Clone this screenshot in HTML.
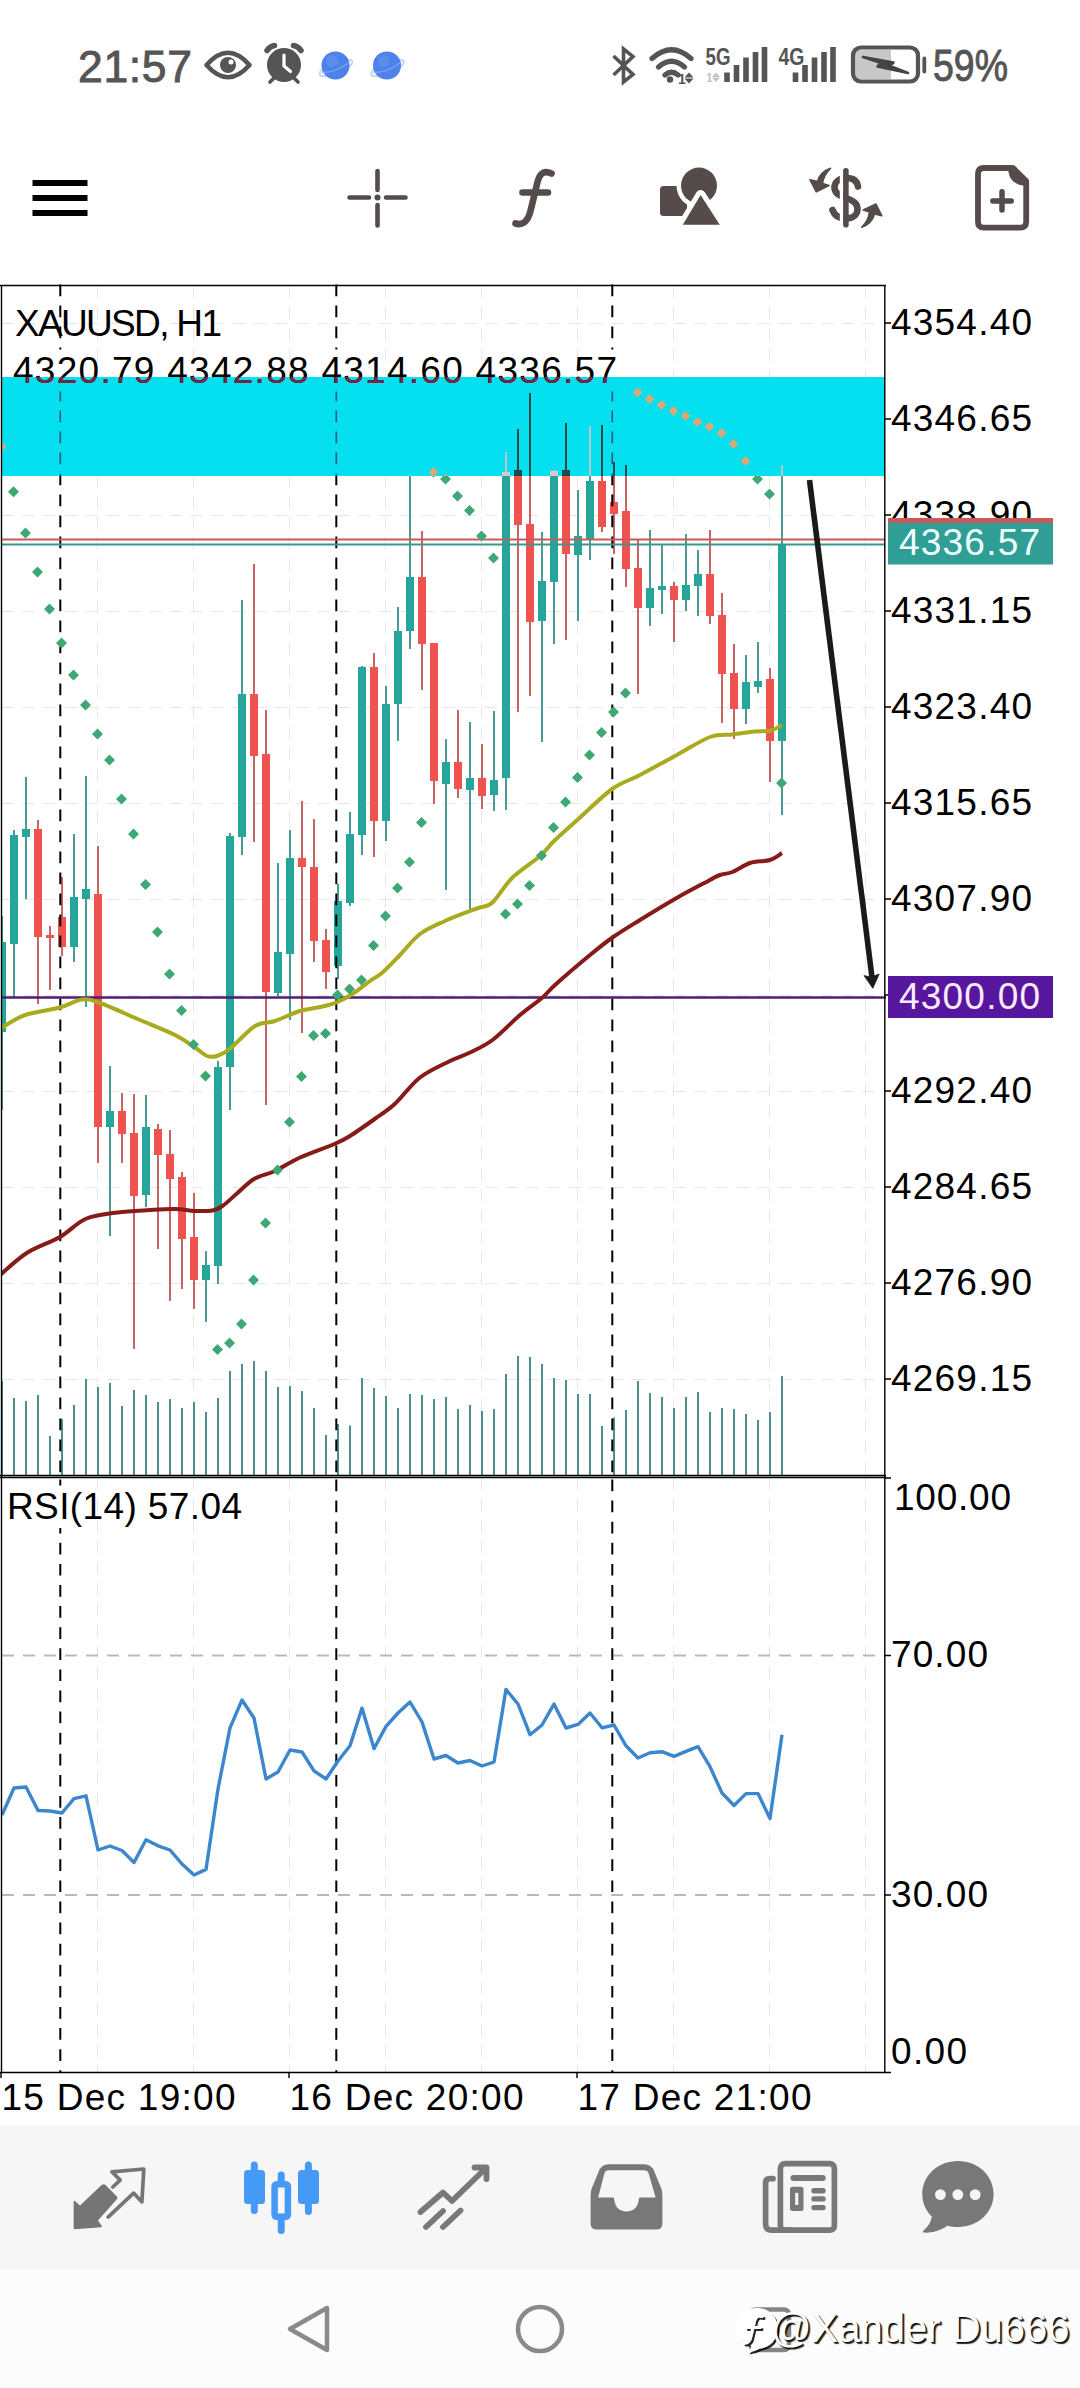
<!DOCTYPE html>
<html lang="en"><head><meta charset="utf-8"><title>XAUUSD H1</title>
<style>
html,body{margin:0;padding:0;background:#fff}
body{width:1080px;height:2388px;position:relative;overflow:hidden;font-family:"Liberation Sans",sans-serif}
.abs{position:absolute}
#nav{position:absolute;left:0;top:2125px;width:1080px;height:145px;background:#f6f6f6}
#sys{position:absolute;left:0;top:2270px;width:1080px;height:118px;background:#fcfcfc}
#wm{position:absolute;left:771px;top:2305px;font-size:40px;line-height:46px;color:#fff;letter-spacing:0px;white-space:nowrap;text-shadow:2px 2px 1px rgba(0,0,0,.85),1px 1px 0 rgba(60,60,60,.8)}
</style></head><body>
<svg class="abs" style="left:0;top:0" width="1080" height="280" viewBox="0 0 1080 280" font-family="Liberation Sans, sans-serif">
<text x="78" y="81.500" font-size="44.500" fill="#555" stroke="#555" stroke-width="0.9" textLength="114" lengthAdjust="spacing">21:57</text>
<text x="933" y="81" font-size="44" fill="#555" stroke="#555" stroke-width="0.9" textLength="75" lengthAdjust="spacingAndGlyphs">59%</text>
<!-- eye -->
<path d="M206.500 65Q228 40.500 249.500 65Q228 89.500 206.500 65Z" fill="none" stroke="#555" stroke-width="4.600" stroke-linejoin="round"/>
<circle cx="228" cy="65" r="8" fill="#555"/><circle cx="231" cy="62" r="2.500" fill="#fff"/>
<!-- alarm -->
<circle cx="284" cy="65" r="17" fill="#555"/>
<path d="M284 55V66L290.500 71.500" stroke="#fff" stroke-width="3.200" fill="none" stroke-linecap="round"/>
<path d="M267 50.500Q269.500 46.500 274.500 45.500M301 50.500Q298.500 46.500 293.500 45.500" stroke="#555" stroke-width="5.500" stroke-linecap="round" fill="none"/>
<path d="M274.500 77.500L270 82M293.500 77.500L298 82" stroke="#555" stroke-width="3.600" stroke-linecap="round"/>
<!-- planets -->
<g><ellipse cx="336" cy="68" rx="17.500" ry="5.500" fill="none" stroke="#c3d4f5" stroke-width="2" transform="rotate(-22 336 68)"/><circle cx="335.500" cy="65.500" r="14" fill="#4d82ea"/><circle cx="332" cy="61" r="6" fill="#6f9cf2" opacity=".45"/><path d="M322 72.500Q333 73.500 348.500 63" stroke="#8db0f3" stroke-width="1.500" fill="none" opacity=".7"/></g>
<g transform="translate(51.5 0)"><ellipse cx="336" cy="68" rx="17.500" ry="5.500" fill="none" stroke="#c3d4f5" stroke-width="2" transform="rotate(-22 336 68)"/><circle cx="335.500" cy="65.500" r="14" fill="#4d82ea"/><circle cx="332" cy="61" r="6" fill="#6f9cf2" opacity=".45"/><path d="M322 72.500Q333 73.500 348.500 63" stroke="#8db0f3" stroke-width="1.500" fill="none" opacity=".7"/></g>
<!-- bluetooth -->
<path d="M613.500 56L633 74.500L623.500 82V49L633 56.500L613.500 75" fill="none" stroke="#555" stroke-width="3.600" stroke-linejoin="miter"/>
<!-- wifi -->
<path d="M652 58.500Q671.500 41 691 58.500" fill="none" stroke="#555" stroke-width="5.200" stroke-linecap="round"/>
<path d="M658.500 67Q671.500 55.500 684.500 67" fill="none" stroke="#555" stroke-width="5.200" stroke-linecap="round"/>
<path d="M665 75Q671.500 69.500 678 75" fill="none" stroke="#555" stroke-width="5.200" stroke-linecap="round"/>
<circle cx="670" cy="79.500" r="3.200" fill="#555"/>
<text x="678" y="83.500" font-size="14" font-weight="700" fill="#555">1</text><path d="M689 72.500l4.500 5h-9zM689 83.500l-4.500-5h9z" fill="#555"/>
<!-- 5G signal -->
<text x="705.500" y="64.500" font-size="23" font-weight="700" fill="#555" textLength="25" lengthAdjust="spacingAndGlyphs">5G</text>
<text x="706" y="82" font-size="12" font-weight="700" fill="#c4c4c4">1</text><path d="M716 72.500l4 4.500h-8zM716 82l-4-4.500h8z" fill="#c4c4c4"/>
<path d="M727 82V72.500M736.500 82V65M746 82V57.500M755.500 82V52M764.500 82V47" stroke="#555" stroke-width="5.600"/>
<!-- 4G signal -->
<text x="778.500" y="64.500" font-size="23" font-weight="700" fill="#555" textLength="26" lengthAdjust="spacingAndGlyphs">4G</text>
<path d="M795.500 82V72.500M805 82V65M814.500 82V57.500M824 82V52M833 82V47" stroke="#555" stroke-width="5.600"/>
<!-- battery -->
<rect x="855" y="50" width="36" height="29" fill="#c8c8c8"/>
<rect x="853" y="47.500" width="65" height="34" rx="8" fill="none" stroke="#555" stroke-width="4.200"/>
<path d="M924.300 58.500V71.500" stroke="#555" stroke-width="3.800" stroke-linecap="round"/>
<path d="M863 57L881 63L877.500 66.500L908 73L890 66L893.500 62.500Z" fill="#444" stroke="#444" stroke-width="2.500" stroke-linejoin="round"/>
<!-- hamburger -->
<path d="M32.500 183H87.500M32.500 198H87.500M32.500 213H87.500" stroke="#000" stroke-width="6"/>
<!-- crosshair -->
<g stroke="#554b4b" stroke-width="4.600" stroke-linecap="round" fill="none"><path d="M377.500 171V190M377.500 205V225.500M349.500 197.500H369M386 197.500H405.500"/></g><circle cx="377.500" cy="197.500" r="3" fill="#554b4b"/>
<!-- f -->
<path d="M515.500 223.500C524 226 528.500 220 531 209L537.500 182C540 172 545 170.500 551.500 173.500M522.500 192.500H548" fill="none" stroke="#554b4b" stroke-width="6.600" stroke-linecap="round"/>
<!-- shapes -->
<rect x="660" y="186" width="27" height="30" rx="3.500" fill="#554b4b"/>
<circle cx="699" cy="185.600" r="22.500" fill="#fff"/><circle cx="699" cy="185.600" r="18" fill="#554b4b"/>
<path d="M700.600 195L719.800 224.700H682.800Z" fill="#554b4b" stroke="#fff" stroke-width="10" stroke-linejoin="round"/>
<path d="M700.600 195L719.800 224.700H682.800Z" fill="#554b4b"/>
<rect x="676" y="229.800" width="50" height="8" fill="#fff"/>
<!-- $ exchange -->
<path d="M858 186.500C857 180 852 178 846.500 178C839 178 834.500 182 834.500 187.500C834.500 193 839 195.500 846 198C853 200.500 857.500 203 857.500 209C857.500 215 852.500 218.500 846 218.500C839.500 218.500 834.500 215.500 832.500 210" fill="none" stroke="#554b4b" stroke-width="6.600" stroke-linecap="round"/>
<path d="M841.500 170V226" stroke="#fff" stroke-width="3.400"/>
<path d="M845.900 170.700V224.800" stroke="#554b4b" stroke-width="5.600" stroke-linecap="round"/>
<path d="M830.500 168.300Q820 172 817.500 181.500L810 179.800L816.300 191.800L829 185.600L822.500 183.500Q823.500 175 830.500 168.300Z" fill="#554b4b" stroke="#554b4b" stroke-width="1.600" stroke-linejoin="round"/>
<path d="M861.700 227.200Q872 223.500 874.500 214L881.800 215.800L876 204L863.200 210L869.500 212Q868.500 220.500 861.700 227.200Z" fill="#554b4b" stroke="#554b4b" stroke-width="1.600" stroke-linejoin="round"/>
<!-- doc+ -->
<path d="M984 168H1013L1026.200 181V221.700Q1026.200 227.700 1020.200 227.700H984Q978 227.700 978 221.700V174Q978 168 984 168Z" fill="none" stroke="#554b4b" stroke-width="5.800" stroke-linejoin="round"/>
<path d="M1008 168L1014 166L1028 180L1027 186L1023 185.500Q1010 184 1008.300 171Z" fill="#554b4b"/>
<path d="M1002 191.700V210M992.800 201.100H1011.200" stroke="#554b4b" stroke-width="5.500" stroke-linecap="round"/>
</svg>
<svg id="chart" width="1080" height="1850" viewBox="0 280 1080 1850" style="position:absolute;left:0;top:280px" font-family="Liberation Sans, sans-serif">
<defs><clipPath id="cp"><rect x="2" y="286" width="883" height="1189"/></clipPath><clipPath id="cy"><rect x="2" y="377" width="883" height="99"/></clipPath><clipPath id="cr"><rect x="2" y="1478" width="883" height="594"/></clipPath></defs>
<path d="M97.5 286V1475M97.5 1478V2072M193.5 286V1475M193.5 1478V2072M289.5 286V1475M289.5 1478V2072M385.5 286V1475M385.5 1478V2072M481.5 286V1475M481.5 1478V2072M577.5 286V1475M577.5 1478V2072M673.5 286V1475M673.5 1478V2072M769.5 286V1475M769.5 1478V2072M865.5 286V1475M865.5 1478V2072M2 323.5H885M2 419.5H885M2 515.5H885M2 611.5H885M2 707.5H885M2 803.5H885M2 899.5H885M2 995.5H885M2 1091.5H885M2 1187.5H885M2 1283.5H885M2 1379.5H885" stroke="#e6e6e6" stroke-width="1" stroke-dasharray="12 9" fill="none"/>
<path d="M2 1655.5H885M2 1895H885" stroke="#b9b9b9" stroke-width="2" stroke-dasharray="12 9" fill="none"/>
<g clip-path="url(#cp)">
<path d="M2 1381V1475M14 1398V1475M26 1401V1475M38 1395V1475M50 1436V1475M62 1419V1475M74 1405V1475M86 1379V1475M98 1387V1475M110 1383V1475M122 1406V1475M134 1390V1475M146 1395V1475M158 1402V1475M170 1399V1475M182 1408V1475M194 1402V1475M206 1412V1475M218 1398V1475M230 1371V1475M242 1364V1475M254 1361V1475M266 1371V1475M278 1387V1475M290 1386V1475M302 1391V1475M314 1408V1475M326 1435V1475M338 1424V1475M350 1425.5V1475M362 1378V1475M374 1388V1475M386 1396V1475M398 1408V1475M410 1394V1475M422 1395V1475M434 1399V1475M446 1397V1475M458 1409V1475M470 1405V1475M482 1411V1475M494 1409V1475M506 1374V1475M518 1356V1475M530 1357V1475M542 1364V1475M554 1378V1475M566 1380V1475M578 1394V1475M590 1394V1475M602 1426V1475M614 1417.5V1475M626 1410V1475M638 1381V1475M650 1393V1475M662 1397V1475M674 1408V1475M686 1397V1475M698 1392V1475M710 1412V1475M722 1408V1475M734 1409V1475M746 1414V1475M758 1420V1475M770 1412V1475M782 1376V1475" stroke="#4d8f8f" stroke-width="2" fill="none"/>
<path d="M2 916V1110" stroke="#4a9a98" stroke-width="2"/><rect x="-2" y="942" width="8" height="90" fill="#26a69a"/><path d="M14 830V997" stroke="#4a9a98" stroke-width="2"/><rect x="10" y="835" width="8" height="109" fill="#26a69a"/><path d="M26 777V899" stroke="#4a9a98" stroke-width="2"/><rect x="22" y="829" width="8" height="8" fill="#26a69a"/><path d="M38 820V1004" stroke="#c86464" stroke-width="2"/><rect x="34" y="829" width="8" height="108" fill="#ef5350"/><path d="M50 926V990" stroke="#c86464" stroke-width="2"/><rect x="46" y="935" width="8" height="3" fill="#ef5350"/><path d="M62 877V956" stroke="#c86464" stroke-width="2"/><rect x="58" y="917" width="8" height="30" fill="#ef5350"/><path d="M74 834V962" stroke="#4a9a98" stroke-width="2"/><rect x="70" y="897" width="8" height="50" fill="#26a69a"/><path d="M86 776V1007" stroke="#4a9a98" stroke-width="2"/><rect x="82" y="889" width="8" height="10" fill="#26a69a"/><path d="M98 846V1163" stroke="#c86464" stroke-width="2"/><rect x="94" y="894" width="8" height="233" fill="#ef5350"/><path d="M110 1066V1236" stroke="#4a9a98" stroke-width="2"/><rect x="106" y="1111" width="8" height="16" fill="#26a69a"/><path d="M122 1093V1163" stroke="#c86464" stroke-width="2"/><rect x="118" y="1111" width="8" height="23" fill="#ef5350"/><path d="M134 1094V1349" stroke="#c86464" stroke-width="2"/><rect x="130" y="1133" width="8" height="63" fill="#ef5350"/><path d="M146 1095V1207" stroke="#4a9a98" stroke-width="2"/><rect x="142" y="1127" width="8" height="68" fill="#26a69a"/><path d="M158 1124V1249" stroke="#c86464" stroke-width="2"/><rect x="154" y="1129" width="8" height="26" fill="#ef5350"/><path d="M170 1130V1301" stroke="#c86464" stroke-width="2"/><rect x="166" y="1154" width="8" height="25" fill="#ef5350"/><path d="M182 1172V1289" stroke="#c86464" stroke-width="2"/><rect x="178" y="1177" width="8" height="62" fill="#ef5350"/><path d="M194 1193V1309" stroke="#c86464" stroke-width="2"/><rect x="190" y="1237" width="8" height="43" fill="#ef5350"/><path d="M206 1251V1322" stroke="#4a9a98" stroke-width="2"/><rect x="202" y="1265" width="8" height="15" fill="#26a69a"/><path d="M218 1061V1284" stroke="#4a9a98" stroke-width="2"/><rect x="214" y="1067" width="8" height="199" fill="#26a69a"/><path d="M230 833V1110" stroke="#4a9a98" stroke-width="2"/><rect x="226" y="836" width="8" height="231" fill="#26a69a"/><path d="M242 600V855" stroke="#4a9a98" stroke-width="2"/><rect x="238" y="694" width="8" height="143" fill="#26a69a"/><path d="M254 564V842" stroke="#c86464" stroke-width="2"/><rect x="250" y="694" width="8" height="62" fill="#ef5350"/><path d="M266 710V1105" stroke="#c86464" stroke-width="2"/><rect x="262" y="754" width="8" height="238" fill="#ef5350"/><path d="M278 863V996" stroke="#4a9a98" stroke-width="2"/><rect x="274" y="952" width="8" height="41" fill="#26a69a"/><path d="M290 830V1020" stroke="#4a9a98" stroke-width="2"/><rect x="286" y="858" width="8" height="96" fill="#26a69a"/><path d="M302 801V1033" stroke="#c86464" stroke-width="2"/><rect x="298" y="858" width="8" height="9" fill="#ef5350"/><path d="M314 819V962" stroke="#c86464" stroke-width="2"/><rect x="310" y="867" width="8" height="74" fill="#ef5350"/><path d="M326 929V989" stroke="#c86464" stroke-width="2"/><rect x="322" y="940" width="8" height="32" fill="#ef5350"/><path d="M338 884V979" stroke="#4a9a98" stroke-width="2"/><rect x="334" y="901" width="8" height="65" fill="#26a69a"/><path d="M350 812V906" stroke="#4a9a98" stroke-width="2"/><rect x="346" y="834" width="8" height="69" fill="#26a69a"/><path d="M362 666V855" stroke="#4a9a98" stroke-width="2"/><rect x="358" y="667" width="8" height="168" fill="#26a69a"/><path d="M374 653V857" stroke="#c86464" stroke-width="2"/><rect x="370" y="667" width="8" height="154" fill="#ef5350"/><path d="M386 686V841" stroke="#4a9a98" stroke-width="2"/><rect x="382" y="704" width="8" height="117" fill="#26a69a"/><path d="M398 607V741" stroke="#4a9a98" stroke-width="2"/><rect x="394" y="631" width="8" height="73" fill="#26a69a"/><path d="M410 475V649" stroke="#4a9a98" stroke-width="2"/><rect x="406" y="577" width="8" height="54" fill="#26a69a"/><path d="M422 531V690" stroke="#c86464" stroke-width="2"/><rect x="418" y="577" width="8" height="67" fill="#ef5350"/><path d="M434 643V804" stroke="#c86464" stroke-width="2"/><rect x="430" y="643" width="8" height="138" fill="#ef5350"/><path d="M446 739V890" stroke="#4a9a98" stroke-width="2"/><rect x="442" y="762" width="8" height="22" fill="#26a69a"/><path d="M458 710V798" stroke="#c86464" stroke-width="2"/><rect x="454" y="762" width="8" height="27" fill="#ef5350"/><path d="M470 722V910" stroke="#4a9a98" stroke-width="2"/><rect x="466" y="778" width="8" height="12" fill="#26a69a"/><path d="M482 744V809" stroke="#c86464" stroke-width="2"/><rect x="478" y="778" width="8" height="18" fill="#ef5350"/><path d="M494 711V811" stroke="#4a9a98" stroke-width="2"/><rect x="490" y="780" width="8" height="15" fill="#26a69a"/><path d="M506 452V810" stroke="#4a9a98" stroke-width="2"/><rect x="502" y="472" width="8" height="306" fill="#26a69a"/><path d="M518 429V712" stroke="#c86464" stroke-width="2"/><rect x="514" y="470" width="8" height="55" fill="#ef5350"/><path d="M530 393V696" stroke="#c86464" stroke-width="2"/><rect x="526" y="524" width="8" height="98" fill="#ef5350"/><path d="M542 532V742" stroke="#4a9a98" stroke-width="2"/><rect x="538" y="581" width="8" height="40" fill="#26a69a"/><path d="M554 470V644" stroke="#4a9a98" stroke-width="2"/><rect x="550" y="471" width="8" height="111" fill="#26a69a"/><path d="M566 423V640" stroke="#c86464" stroke-width="2"/><rect x="562" y="470" width="8" height="84" fill="#ef5350"/><path d="M578 490V621" stroke="#4a9a98" stroke-width="2"/><rect x="574" y="536" width="8" height="19" fill="#26a69a"/><path d="M590 426V560" stroke="#4a9a98" stroke-width="2"/><rect x="586" y="481" width="8" height="58" fill="#26a69a"/><path d="M602 425V532" stroke="#c86464" stroke-width="2"/><rect x="598" y="481" width="8" height="46" fill="#ef5350"/><path d="M614 462V554" stroke="#c86464" stroke-width="2"/><rect x="610" y="502" width="8" height="12" fill="#ef5350"/><path d="M626 465V587" stroke="#c86464" stroke-width="2"/><rect x="622" y="511" width="8" height="58" fill="#ef5350"/><path d="M638 540V694" stroke="#c86464" stroke-width="2"/><rect x="634" y="568" width="8" height="40" fill="#ef5350"/><path d="M650 530V626" stroke="#4a9a98" stroke-width="2"/><rect x="646" y="588" width="8" height="20" fill="#26a69a"/><path d="M662 545V614" stroke="#4a9a98" stroke-width="2"/><rect x="658" y="586" width="8" height="4" fill="#26a69a"/><path d="M674 582V642" stroke="#c86464" stroke-width="2"/><rect x="670" y="586" width="8" height="14" fill="#ef5350"/><path d="M686 534V611" stroke="#4a9a98" stroke-width="2"/><rect x="682" y="585" width="8" height="15" fill="#26a69a"/><path d="M698 550V616" stroke="#4a9a98" stroke-width="2"/><rect x="694" y="574" width="8" height="12" fill="#26a69a"/><path d="M710 530V624" stroke="#c86464" stroke-width="2"/><rect x="706" y="574" width="8" height="42" fill="#ef5350"/><path d="M722 593V723" stroke="#c86464" stroke-width="2"/><rect x="718" y="615" width="8" height="59" fill="#ef5350"/><path d="M734 644V739" stroke="#c86464" stroke-width="2"/><rect x="730" y="673" width="8" height="36" fill="#ef5350"/><path d="M746 655V724" stroke="#4a9a98" stroke-width="2"/><rect x="742" y="682" width="8" height="27" fill="#26a69a"/><path d="M758 642V693" stroke="#4a9a98" stroke-width="2"/><rect x="754" y="681" width="8" height="6" fill="#26a69a"/><path d="M770 668V782" stroke="#c86464" stroke-width="2"/><rect x="766" y="679" width="8" height="62" fill="#ef5350"/><path d="M782 465V815" stroke="#4a9a98" stroke-width="2"/><rect x="778" y="544" width="8" height="197" fill="#26a69a"/>
</g>
<path d="M60.3 284.6V296.3M60.3 305.6V317.3M60.3 326.6V338.3M60.3 347.6V349.4M60.3 476.0V485.3M60.3 494.6V506.3M60.3 515.6V527.3M60.3 536.6V548.3M60.3 557.6V569.3M60.3 578.6V590.3M60.3 599.6V611.3M60.3 620.6V632.3M60.3 641.6V653.3M60.3 662.6V674.3M60.3 683.6V695.3M60.3 704.6V716.3M60.3 725.6V737.3M60.3 746.6V758.3M60.3 767.6V779.3M60.3 788.6V800.3M60.3 809.6V821.3M60.3 830.6V842.3M60.3 851.6V863.3M60.3 872.6V884.3M60.3 893.6V905.3M60.3 914.6V926.3M60.3 935.6V947.3M60.3 956.6V968.3M60.3 977.6V989.3M60.3 998.6V1010.3M60.3 1019.6V1031.3M60.3 1040.6V1052.3M60.3 1061.6V1073.3M60.3 1082.6V1094.3M60.3 1103.6V1115.3M60.3 1124.6V1136.3M60.3 1145.6V1157.3M60.3 1166.6V1178.3M60.3 1187.6V1199.3M60.3 1208.6V1220.3M60.3 1229.6V1241.3M60.3 1250.6V1262.3M60.3 1271.6V1283.3M60.3 1292.6V1304.3M60.3 1313.6V1325.3M60.3 1334.6V1346.3M60.3 1355.6V1367.3M60.3 1376.6V1388.3M60.3 1397.6V1409.3M60.3 1418.6V1430.3M60.3 1439.6V1451.3M60.3 1460.6V1472.3M60.3 1479.5V1485.5M60.3 1528.0V1533.4M60.3 1542.8V1554.5M60.3 1563.9V1575.6M60.3 1585.0V1596.7M60.3 1606.1V1617.8M60.3 1627.2V1638.9M60.3 1648.3V1660.0M60.3 1669.4V1681.1M60.3 1690.5V1702.2M60.3 1711.6V1723.3M60.3 1732.7V1744.4M60.3 1753.8V1765.5M60.3 1774.9V1786.6M60.3 1796.0V1807.7M60.3 1817.1V1828.8M60.3 1838.2V1849.9M60.3 1859.3V1871.0M60.3 1880.4V1892.1M60.3 1901.5V1913.2M60.3 1922.6V1934.3M60.3 1943.7V1955.4M60.3 1964.8V1976.5M60.3 1985.9V1997.6M60.3 2007.0V2018.7M60.3 2028.1V2039.8M60.3 2049.2V2060.9M60.3 2070.3V2072.0M336.3 284.6V296.3M336.3 305.6V317.3M336.3 326.6V338.3M336.3 347.6V349.4M336.3 476.0V485.3M336.3 494.6V506.3M336.3 515.6V527.3M336.3 536.6V548.3M336.3 557.6V569.3M336.3 578.6V590.3M336.3 599.6V611.3M336.3 620.6V632.3M336.3 641.6V653.3M336.3 662.6V674.3M336.3 683.6V695.3M336.3 704.6V716.3M336.3 725.6V737.3M336.3 746.6V758.3M336.3 767.6V779.3M336.3 788.6V800.3M336.3 809.6V821.3M336.3 830.6V842.3M336.3 851.6V863.3M336.3 872.6V884.3M336.3 893.6V905.3M336.3 914.6V926.3M336.3 935.6V947.3M336.3 956.6V968.3M336.3 977.6V989.3M336.3 998.6V1010.3M336.3 1019.6V1031.3M336.3 1040.6V1052.3M336.3 1061.6V1073.3M336.3 1082.6V1094.3M336.3 1103.6V1115.3M336.3 1124.6V1136.3M336.3 1145.6V1157.3M336.3 1166.6V1178.3M336.3 1187.6V1199.3M336.3 1208.6V1220.3M336.3 1229.6V1241.3M336.3 1250.6V1262.3M336.3 1271.6V1283.3M336.3 1292.6V1304.3M336.3 1313.6V1325.3M336.3 1334.6V1346.3M336.3 1355.6V1367.3M336.3 1376.6V1388.3M336.3 1397.6V1409.3M336.3 1418.6V1430.3M336.3 1439.6V1451.3M336.3 1460.6V1472.3M336.3 1479.5V1491.2M336.3 1500.6V1512.3M336.3 1521.7V1533.4M336.3 1542.8V1554.5M336.3 1563.9V1575.6M336.3 1585.0V1596.7M336.3 1606.1V1617.8M336.3 1627.2V1638.9M336.3 1648.3V1660.0M336.3 1669.4V1681.1M336.3 1690.5V1702.2M336.3 1711.6V1723.3M336.3 1732.7V1744.4M336.3 1753.8V1765.5M336.3 1774.9V1786.6M336.3 1796.0V1807.7M336.3 1817.1V1828.8M336.3 1838.2V1849.9M336.3 1859.3V1871.0M336.3 1880.4V1892.1M336.3 1901.5V1913.2M336.3 1922.6V1934.3M336.3 1943.7V1955.4M336.3 1964.8V1976.5M336.3 1985.9V1997.6M336.3 2007.0V2018.7M336.3 2028.1V2039.8M336.3 2049.2V2060.9M336.3 2070.3V2072.0M612.3 284.6V296.3M612.3 305.6V317.3M612.3 326.6V338.3M612.3 347.6V349.4M612.3 476.0V485.3M612.3 494.6V506.3M612.3 515.6V527.3M612.3 536.6V548.3M612.3 557.6V569.3M612.3 578.6V590.3M612.3 599.6V611.3M612.3 620.6V632.3M612.3 641.6V653.3M612.3 662.6V674.3M612.3 683.6V695.3M612.3 704.6V716.3M612.3 725.6V737.3M612.3 746.6V758.3M612.3 767.6V779.3M612.3 788.6V800.3M612.3 809.6V821.3M612.3 830.6V842.3M612.3 851.6V863.3M612.3 872.6V884.3M612.3 893.6V905.3M612.3 914.6V926.3M612.3 935.6V947.3M612.3 956.6V968.3M612.3 977.6V989.3M612.3 998.6V1010.3M612.3 1019.6V1031.3M612.3 1040.6V1052.3M612.3 1061.6V1073.3M612.3 1082.6V1094.3M612.3 1103.6V1115.3M612.3 1124.6V1136.3M612.3 1145.6V1157.3M612.3 1166.6V1178.3M612.3 1187.6V1199.3M612.3 1208.6V1220.3M612.3 1229.6V1241.3M612.3 1250.6V1262.3M612.3 1271.6V1283.3M612.3 1292.6V1304.3M612.3 1313.6V1325.3M612.3 1334.6V1346.3M612.3 1355.6V1367.3M612.3 1376.6V1388.3M612.3 1397.6V1409.3M612.3 1418.6V1430.3M612.3 1439.6V1451.3M612.3 1460.6V1472.3M612.3 1479.5V1491.2M612.3 1500.6V1512.3M612.3 1521.7V1533.4M612.3 1542.8V1554.5M612.3 1563.9V1575.6M612.3 1585.0V1596.7M612.3 1606.1V1617.8M612.3 1627.2V1638.9M612.3 1648.3V1660.0M612.3 1669.4V1681.1M612.3 1690.5V1702.2M612.3 1711.6V1723.3M612.3 1732.7V1744.4M612.3 1753.8V1765.5M612.3 1774.9V1786.6M612.3 1796.0V1807.7M612.3 1817.1V1828.8M612.3 1838.2V1849.9M612.3 1859.3V1871.0M612.3 1880.4V1892.1M612.3 1901.5V1913.2M612.3 1922.6V1934.3M612.3 1943.7V1955.4M612.3 1964.8V1976.5M612.3 1985.9V1997.6M612.3 2007.0V2018.7M612.3 2028.1V2039.8M612.3 2049.2V2060.9M612.3 2070.3V2072.0" stroke="#000" stroke-width="2" fill="none"/>
<path d="M2 539.5H885" stroke="#c85a5a" stroke-width="2"/><path d="M2 544.5H885" stroke="#3c9590" stroke-width="2"/>
<path d="M2 997.5H886" stroke="#4c1e74" stroke-width="2.7"/>
<g clip-path="url(#cp)" fill="none" stroke-linejoin="round" stroke-linecap="butt">
<path d="M0 1028.75C4.2 1026.5 15.0 1018.5 25 1015C35.0 1011.5 50.5 1010.1 60 1007.5C69.5 1004.9 75.3 1000.2 82 999.5C88.7 998.8 90.3 999.6 100 1003C109.7 1006.4 127.5 1014.7 140 1020C152.5 1025.3 165.8 1030.4 175 1035C184.2 1039.6 189.7 1044.0 195 1047.5C200.3 1051.0 203.3 1054.6 207 1056C210.7 1057.4 213.2 1057.2 217 1056C220.8 1054.8 223.7 1053.8 230 1048.75C236.3 1043.8 247.5 1030.6 255 1026C262.5 1021.4 267.5 1023.5 275 1021C282.5 1018.5 291.7 1013.5 300 1011C308.3 1008.5 318.8 1007.5 325 1006C331.2 1004.5 332.9 1004.0 337.5 1002C342.1 1000.0 347.1 997.5 352.5 994C357.9 990.5 365.0 984.6 370 981C375.0 977.4 377.5 976.8 382.5 972.5C387.5 968.2 393.8 961.4 400 955C406.2 948.6 412.5 939.7 420 934C427.5 928.3 436.7 924.8 445 921C453.3 917.2 464.2 913.2 470 911C475.8 908.8 476.2 908.9 480 907.5C483.8 906.1 487.1 907.5 492.5 902.5C497.9 897.5 504.6 885.2 512.5 877.5C520.4 869.8 532.9 862.2 540 856C547.1 849.8 548.3 846.4 555 840C561.7 833.6 570.4 826.0 580 817.5C589.6 809.0 602.5 795.8 612.5 788.75C622.5 781.7 629.6 780.5 640 775C650.4 769.5 663.3 762.3 675 756C686.7 749.7 700.4 740.6 710 737C719.6 733.4 725.0 735.4 732.5 734.5C740.0 733.6 748.8 732.1 755 731.5C761.2 730.9 765.5 731.8 770 730.75C774.5 729.7 780.0 726.0 782 725" stroke="#a9ab1f" stroke-width="4"/>
<path d="M0 1275C4.6 1271.2 17.5 1258.8 27.5 1252.5C37.5 1246.2 50.2 1242.6 60 1237C69.8 1231.4 76.4 1222.8 86 1218.75C95.6 1214.7 106.8 1214.0 117.5 1212.5C128.2 1211.0 140.4 1210.6 150 1210C159.6 1209.4 167.5 1208.8 175 1209C182.5 1209.2 188.8 1210.8 195 1211C201.2 1211.2 207.9 1211.3 212.5 1210.5C217.1 1209.7 218.3 1208.9 222.5 1206C226.7 1203.1 232.2 1197.5 237.5 1193C242.8 1188.5 247.8 1182.7 254 1179C260.2 1175.3 267.3 1174.6 275 1171C282.7 1167.4 290.0 1162.0 300 1157.5C310.0 1153.0 326.7 1147.3 335 1143.75C343.3 1140.2 343.3 1140.2 350 1136C356.7 1131.8 367.5 1124.1 375 1118.75C382.5 1113.4 387.5 1110.6 395 1103.75C402.5 1096.9 410.8 1084.6 420 1077.5C429.2 1070.4 441.7 1065.2 450 1061C458.3 1056.8 462.9 1056.0 470 1052.5C477.1 1049.0 484.2 1046.2 492.5 1040C500.8 1033.8 511.7 1022.1 520 1015C528.3 1007.9 536.7 1002.5 542.5 997.5C548.3 992.5 547.1 992.1 555 985C562.9 977.9 580.4 962.9 590 955C599.6 947.1 604.2 943.3 612.5 937.5C620.8 931.7 629.2 926.7 640 920C650.8 913.3 665.8 904.2 677.5 897.5C689.2 890.8 702.9 883.8 710 880C717.1 876.2 716.2 876.3 720 875C723.8 873.7 727.5 874.0 732.5 872C737.5 870.0 743.8 865.0 750 863C756.2 861.0 764.7 861.7 770 860C775.3 858.3 780.0 854.2 782 853" stroke="#861b17" stroke-width="4"/>
<path fill="#3da876" d="M-4.0 447l5.5 -5.5l5.5 5.5l-5.5 5.5zM8.0 491.75l5.5 -5.5l5.5 5.5l-5.5 5.5zM20.0 533l5.5 -5.5l5.5 5.5l-5.5 5.5zM32.0 572l5.5 -5.5l5.5 5.5l-5.5 5.5zM44.0 609l5.5 -5.5l5.5 5.5l-5.5 5.5zM56.0 643l5.5 -5.5l5.5 5.5l-5.5 5.5zM68.0 675l5.5 -5.5l5.5 5.5l-5.5 5.5zM80.0 705l5.5 -5.5l5.5 5.5l-5.5 5.5zM92.0 734l5.5 -5.5l5.5 5.5l-5.5 5.5zM104.0 760l5.5 -5.5l5.5 5.5l-5.5 5.5zM116.0 799l5.5 -5.5l5.5 5.5l-5.5 5.5zM128.0 834l5.5 -5.5l5.5 5.5l-5.5 5.5zM140.0 884.5l5.5 -5.5l5.5 5.5l-5.5 5.5zM152.0 932l5.5 -5.5l5.5 5.5l-5.5 5.5zM164.0 974l5.5 -5.5l5.5 5.5l-5.5 5.5zM176.0 1010.5l5.5 -5.5l5.5 5.5l-5.5 5.5zM188.0 1044.5l5.5 -5.5l5.5 5.5l-5.5 5.5zM200.0 1076l5.5 -5.5l5.5 5.5l-5.5 5.5zM212.0 1349.5l5.5 -5.5l5.5 5.5l-5.5 5.5zM224.0 1343l5.5 -5.5l5.5 5.5l-5.5 5.5zM236.0 1324l5.5 -5.5l5.5 5.5l-5.5 5.5zM248.0 1280l5.5 -5.5l5.5 5.5l-5.5 5.5zM260.0 1223l5.5 -5.5l5.5 5.5l-5.5 5.5zM272.0 1170l5.5 -5.5l5.5 5.5l-5.5 5.5zM284.0 1122l5.5 -5.5l5.5 5.5l-5.5 5.5zM296.0 1076.5l5.5 -5.5l5.5 5.5l-5.5 5.5zM308.0 1035.5l5.5 -5.5l5.5 5.5l-5.5 5.5zM320.0 1033.5l5.5 -5.5l5.5 5.5l-5.5 5.5zM332.0 995l5.5 -5.5l5.5 5.5l-5.5 5.5zM344.0 989l5.5 -5.5l5.5 5.5l-5.5 5.5zM356.0 980l5.5 -5.5l5.5 5.5l-5.5 5.5zM368.0 945.5l5.5 -5.5l5.5 5.5l-5.5 5.5zM380.0 916l5.5 -5.5l5.5 5.5l-5.5 5.5zM392.0 888l5.5 -5.5l5.5 5.5l-5.5 5.5zM404.0 862l5.5 -5.5l5.5 5.5l-5.5 5.5zM416.0 822.5l5.5 -5.5l5.5 5.5l-5.5 5.5zM428.0 472l5.5 -5.5l5.5 5.5l-5.5 5.5zM440.0 479l5.5 -5.5l5.5 5.5l-5.5 5.5zM452.0 496l5.5 -5.5l5.5 5.5l-5.5 5.5zM464.0 510.5l5.5 -5.5l5.5 5.5l-5.5 5.5zM476.0 536l5.5 -5.5l5.5 5.5l-5.5 5.5zM488.0 558l5.5 -5.5l5.5 5.5l-5.5 5.5zM500.0 914l5.5 -5.5l5.5 5.5l-5.5 5.5zM512.0 904l5.5 -5.5l5.5 5.5l-5.5 5.5zM524.0 885.5l5.5 -5.5l5.5 5.5l-5.5 5.5zM536.0 855.5l5.5 -5.5l5.5 5.5l-5.5 5.5zM548.0 827.5l5.5 -5.5l5.5 5.5l-5.5 5.5zM560.0 802l5.5 -5.5l5.5 5.5l-5.5 5.5zM572.0 777.5l5.5 -5.5l5.5 5.5l-5.5 5.5zM584.0 755l5.5 -5.5l5.5 5.5l-5.5 5.5zM596.0 732.5l5.5 -5.5l5.5 5.5l-5.5 5.5zM608.0 712l5.5 -5.5l5.5 5.5l-5.5 5.5zM620.0 693l5.5 -5.5l5.5 5.5l-5.5 5.5zM632.0 392.5l5.5 -5.5l5.5 5.5l-5.5 5.5zM644.0 399l5.5 -5.5l5.5 5.5l-5.5 5.5zM656.0 405l5.5 -5.5l5.5 5.5l-5.5 5.5zM668.0 411l5.5 -5.5l5.5 5.5l-5.5 5.5zM680.0 416l5.5 -5.5l5.5 5.5l-5.5 5.5zM692.0 422l5.5 -5.5l5.5 5.5l-5.5 5.5zM704.0 426.5l5.5 -5.5l5.5 5.5l-5.5 5.5zM716.0 433l5.5 -5.5l5.5 5.5l-5.5 5.5zM728.0 444l5.5 -5.5l5.5 5.5l-5.5 5.5zM740.0 461l5.5 -5.5l5.5 5.5l-5.5 5.5zM752.0 479l5.5 -5.5l5.5 5.5l-5.5 5.5zM764.0 494l5.5 -5.5l5.5 5.5l-5.5 5.5zM776.0 783l5.5 -5.5l5.5 5.5l-5.5 5.5z"/>
</g>
<rect x="2" y="377" width="883" height="99" fill="#05e0f0"/>
<g clip-path="url(#cy)">
<path d="M2 916V1110" stroke="#b9c4cc" stroke-width="2"/><rect x="-2" y="942" width="8" height="90" fill="#d8c8d0"/><path d="M14 830V997" stroke="#b9c4cc" stroke-width="2"/><rect x="10" y="835" width="8" height="109" fill="#d8c8d0"/><path d="M26 777V899" stroke="#b9c4cc" stroke-width="2"/><rect x="22" y="829" width="8" height="8" fill="#d8c8d0"/><path d="M38 820V1004" stroke="#1e4a48" stroke-width="2"/><rect x="34" y="829" width="8" height="108" fill="#1e4a48"/><path d="M50 926V990" stroke="#1e4a48" stroke-width="2"/><rect x="46" y="935" width="8" height="3" fill="#1e4a48"/><path d="M62 877V956" stroke="#1e4a48" stroke-width="2"/><rect x="58" y="917" width="8" height="30" fill="#1e4a48"/><path d="M74 834V962" stroke="#b9c4cc" stroke-width="2"/><rect x="70" y="897" width="8" height="50" fill="#d8c8d0"/><path d="M86 776V1007" stroke="#b9c4cc" stroke-width="2"/><rect x="82" y="889" width="8" height="10" fill="#d8c8d0"/><path d="M98 846V1163" stroke="#1e4a48" stroke-width="2"/><rect x="94" y="894" width="8" height="233" fill="#1e4a48"/><path d="M110 1066V1236" stroke="#b9c4cc" stroke-width="2"/><rect x="106" y="1111" width="8" height="16" fill="#d8c8d0"/><path d="M122 1093V1163" stroke="#1e4a48" stroke-width="2"/><rect x="118" y="1111" width="8" height="23" fill="#1e4a48"/><path d="M134 1094V1349" stroke="#1e4a48" stroke-width="2"/><rect x="130" y="1133" width="8" height="63" fill="#1e4a48"/><path d="M146 1095V1207" stroke="#b9c4cc" stroke-width="2"/><rect x="142" y="1127" width="8" height="68" fill="#d8c8d0"/><path d="M158 1124V1249" stroke="#1e4a48" stroke-width="2"/><rect x="154" y="1129" width="8" height="26" fill="#1e4a48"/><path d="M170 1130V1301" stroke="#1e4a48" stroke-width="2"/><rect x="166" y="1154" width="8" height="25" fill="#1e4a48"/><path d="M182 1172V1289" stroke="#1e4a48" stroke-width="2"/><rect x="178" y="1177" width="8" height="62" fill="#1e4a48"/><path d="M194 1193V1309" stroke="#1e4a48" stroke-width="2"/><rect x="190" y="1237" width="8" height="43" fill="#1e4a48"/><path d="M206 1251V1322" stroke="#b9c4cc" stroke-width="2"/><rect x="202" y="1265" width="8" height="15" fill="#d8c8d0"/><path d="M218 1061V1284" stroke="#b9c4cc" stroke-width="2"/><rect x="214" y="1067" width="8" height="199" fill="#d8c8d0"/><path d="M230 833V1110" stroke="#b9c4cc" stroke-width="2"/><rect x="226" y="836" width="8" height="231" fill="#d8c8d0"/><path d="M242 600V855" stroke="#b9c4cc" stroke-width="2"/><rect x="238" y="694" width="8" height="143" fill="#d8c8d0"/><path d="M254 564V842" stroke="#1e4a48" stroke-width="2"/><rect x="250" y="694" width="8" height="62" fill="#1e4a48"/><path d="M266 710V1105" stroke="#1e4a48" stroke-width="2"/><rect x="262" y="754" width="8" height="238" fill="#1e4a48"/><path d="M278 863V996" stroke="#b9c4cc" stroke-width="2"/><rect x="274" y="952" width="8" height="41" fill="#d8c8d0"/><path d="M290 830V1020" stroke="#b9c4cc" stroke-width="2"/><rect x="286" y="858" width="8" height="96" fill="#d8c8d0"/><path d="M302 801V1033" stroke="#1e4a48" stroke-width="2"/><rect x="298" y="858" width="8" height="9" fill="#1e4a48"/><path d="M314 819V962" stroke="#1e4a48" stroke-width="2"/><rect x="310" y="867" width="8" height="74" fill="#1e4a48"/><path d="M326 929V989" stroke="#1e4a48" stroke-width="2"/><rect x="322" y="940" width="8" height="32" fill="#1e4a48"/><path d="M338 884V979" stroke="#b9c4cc" stroke-width="2"/><rect x="334" y="901" width="8" height="65" fill="#d8c8d0"/><path d="M350 812V906" stroke="#b9c4cc" stroke-width="2"/><rect x="346" y="834" width="8" height="69" fill="#d8c8d0"/><path d="M362 666V855" stroke="#b9c4cc" stroke-width="2"/><rect x="358" y="667" width="8" height="168" fill="#d8c8d0"/><path d="M374 653V857" stroke="#1e4a48" stroke-width="2"/><rect x="370" y="667" width="8" height="154" fill="#1e4a48"/><path d="M386 686V841" stroke="#b9c4cc" stroke-width="2"/><rect x="382" y="704" width="8" height="117" fill="#d8c8d0"/><path d="M398 607V741" stroke="#b9c4cc" stroke-width="2"/><rect x="394" y="631" width="8" height="73" fill="#d8c8d0"/><path d="M410 475V649" stroke="#b9c4cc" stroke-width="2"/><rect x="406" y="577" width="8" height="54" fill="#d8c8d0"/><path d="M422 531V690" stroke="#1e4a48" stroke-width="2"/><rect x="418" y="577" width="8" height="67" fill="#1e4a48"/><path d="M434 643V804" stroke="#1e4a48" stroke-width="2"/><rect x="430" y="643" width="8" height="138" fill="#1e4a48"/><path d="M446 739V890" stroke="#b9c4cc" stroke-width="2"/><rect x="442" y="762" width="8" height="22" fill="#d8c8d0"/><path d="M458 710V798" stroke="#1e4a48" stroke-width="2"/><rect x="454" y="762" width="8" height="27" fill="#1e4a48"/><path d="M470 722V910" stroke="#b9c4cc" stroke-width="2"/><rect x="466" y="778" width="8" height="12" fill="#d8c8d0"/><path d="M482 744V809" stroke="#1e4a48" stroke-width="2"/><rect x="478" y="778" width="8" height="18" fill="#1e4a48"/><path d="M494 711V811" stroke="#b9c4cc" stroke-width="2"/><rect x="490" y="780" width="8" height="15" fill="#d8c8d0"/><path d="M506 452V810" stroke="#b9c4cc" stroke-width="2"/><rect x="502" y="472" width="8" height="306" fill="#d8c8d0"/><path d="M518 429V712" stroke="#1e4a48" stroke-width="2"/><rect x="514" y="470" width="8" height="55" fill="#1e4a48"/><path d="M530 393V696" stroke="#1e4a48" stroke-width="2"/><rect x="526" y="524" width="8" height="98" fill="#1e4a48"/><path d="M542 532V742" stroke="#b9c4cc" stroke-width="2"/><rect x="538" y="581" width="8" height="40" fill="#d8c8d0"/><path d="M554 470V644" stroke="#b9c4cc" stroke-width="2"/><rect x="550" y="471" width="8" height="111" fill="#d8c8d0"/><path d="M566 423V640" stroke="#1e4a48" stroke-width="2"/><rect x="562" y="470" width="8" height="84" fill="#1e4a48"/><path d="M578 490V621" stroke="#b9c4cc" stroke-width="2"/><rect x="574" y="536" width="8" height="19" fill="#d8c8d0"/><path d="M590 426V560" stroke="#b9c4cc" stroke-width="2"/><rect x="586" y="481" width="8" height="58" fill="#d8c8d0"/><path d="M602 425V532" stroke="#1e4a48" stroke-width="2"/><rect x="598" y="481" width="8" height="46" fill="#1e4a48"/><path d="M614 462V554" stroke="#1e4a48" stroke-width="2"/><rect x="610" y="502" width="8" height="12" fill="#1e4a48"/><path d="M626 465V587" stroke="#1e4a48" stroke-width="2"/><rect x="622" y="511" width="8" height="58" fill="#1e4a48"/><path d="M638 540V694" stroke="#1e4a48" stroke-width="2"/><rect x="634" y="568" width="8" height="40" fill="#1e4a48"/><path d="M650 530V626" stroke="#b9c4cc" stroke-width="2"/><rect x="646" y="588" width="8" height="20" fill="#d8c8d0"/><path d="M662 545V614" stroke="#b9c4cc" stroke-width="2"/><rect x="658" y="586" width="8" height="4" fill="#d8c8d0"/><path d="M674 582V642" stroke="#1e4a48" stroke-width="2"/><rect x="670" y="586" width="8" height="14" fill="#1e4a48"/><path d="M686 534V611" stroke="#b9c4cc" stroke-width="2"/><rect x="682" y="585" width="8" height="15" fill="#d8c8d0"/><path d="M698 550V616" stroke="#b9c4cc" stroke-width="2"/><rect x="694" y="574" width="8" height="12" fill="#d8c8d0"/><path d="M710 530V624" stroke="#1e4a48" stroke-width="2"/><rect x="706" y="574" width="8" height="42" fill="#1e4a48"/><path d="M722 593V723" stroke="#1e4a48" stroke-width="2"/><rect x="718" y="615" width="8" height="59" fill="#1e4a48"/><path d="M734 644V739" stroke="#1e4a48" stroke-width="2"/><rect x="730" y="673" width="8" height="36" fill="#1e4a48"/><path d="M746 655V724" stroke="#b9c4cc" stroke-width="2"/><rect x="742" y="682" width="8" height="27" fill="#d8c8d0"/><path d="M758 642V693" stroke="#b9c4cc" stroke-width="2"/><rect x="754" y="681" width="8" height="6" fill="#d8c8d0"/><path d="M770 668V782" stroke="#1e4a48" stroke-width="2"/><rect x="766" y="679" width="8" height="62" fill="#1e4a48"/><path d="M782 465V815" stroke="#b9c4cc" stroke-width="2"/><rect x="778" y="544" width="8" height="197" fill="#d8c8d0"/>
<path d="M60.3 391.5V401.3M60.3 410.6V422.3M60.3 431.6V443.3M60.3 452.6V464.3M60.3 473.6V476.0M336.3 391.5V401.3M336.3 410.6V422.3M336.3 431.6V443.3M336.3 452.6V464.3M336.3 473.6V476.0M612.3 391.5V401.3M612.3 410.6V422.3M612.3 431.6V443.3M612.3 452.6V464.3M612.3 473.6V476.0" stroke="#2d5f7f" stroke-width="1.7" fill="none"/>
<path fill="#dba774" stroke="#dba774" stroke-width="2.5" stroke-linejoin="round" d="M-1.7000000000000002 447l3.2 -3.2l3.2 3.2l-3.2 3.2zM10.3 491.75l3.2 -3.2l3.2 3.2l-3.2 3.2zM22.3 533l3.2 -3.2l3.2 3.2l-3.2 3.2zM34.3 572l3.2 -3.2l3.2 3.2l-3.2 3.2zM46.3 609l3.2 -3.2l3.2 3.2l-3.2 3.2zM58.3 643l3.2 -3.2l3.2 3.2l-3.2 3.2zM70.3 675l3.2 -3.2l3.2 3.2l-3.2 3.2zM82.3 705l3.2 -3.2l3.2 3.2l-3.2 3.2zM94.3 734l3.2 -3.2l3.2 3.2l-3.2 3.2zM106.3 760l3.2 -3.2l3.2 3.2l-3.2 3.2zM118.3 799l3.2 -3.2l3.2 3.2l-3.2 3.2zM130.3 834l3.2 -3.2l3.2 3.2l-3.2 3.2zM142.3 884.5l3.2 -3.2l3.2 3.2l-3.2 3.2zM154.3 932l3.2 -3.2l3.2 3.2l-3.2 3.2zM166.3 974l3.2 -3.2l3.2 3.2l-3.2 3.2zM178.3 1010.5l3.2 -3.2l3.2 3.2l-3.2 3.2zM190.3 1044.5l3.2 -3.2l3.2 3.2l-3.2 3.2zM202.3 1076l3.2 -3.2l3.2 3.2l-3.2 3.2zM214.3 1349.5l3.2 -3.2l3.2 3.2l-3.2 3.2zM226.3 1343l3.2 -3.2l3.2 3.2l-3.2 3.2zM238.3 1324l3.2 -3.2l3.2 3.2l-3.2 3.2zM250.3 1280l3.2 -3.2l3.2 3.2l-3.2 3.2zM262.3 1223l3.2 -3.2l3.2 3.2l-3.2 3.2zM274.3 1170l3.2 -3.2l3.2 3.2l-3.2 3.2zM286.3 1122l3.2 -3.2l3.2 3.2l-3.2 3.2zM298.3 1076.5l3.2 -3.2l3.2 3.2l-3.2 3.2zM310.3 1035.5l3.2 -3.2l3.2 3.2l-3.2 3.2zM322.3 1033.5l3.2 -3.2l3.2 3.2l-3.2 3.2zM334.3 995l3.2 -3.2l3.2 3.2l-3.2 3.2zM346.3 989l3.2 -3.2l3.2 3.2l-3.2 3.2zM358.3 980l3.2 -3.2l3.2 3.2l-3.2 3.2zM370.3 945.5l3.2 -3.2l3.2 3.2l-3.2 3.2zM382.3 916l3.2 -3.2l3.2 3.2l-3.2 3.2zM394.3 888l3.2 -3.2l3.2 3.2l-3.2 3.2zM406.3 862l3.2 -3.2l3.2 3.2l-3.2 3.2zM418.3 822.5l3.2 -3.2l3.2 3.2l-3.2 3.2zM430.3 472l3.2 -3.2l3.2 3.2l-3.2 3.2zM442.3 479l3.2 -3.2l3.2 3.2l-3.2 3.2zM454.3 496l3.2 -3.2l3.2 3.2l-3.2 3.2zM466.3 510.5l3.2 -3.2l3.2 3.2l-3.2 3.2zM478.3 536l3.2 -3.2l3.2 3.2l-3.2 3.2zM490.3 558l3.2 -3.2l3.2 3.2l-3.2 3.2zM502.3 914l3.2 -3.2l3.2 3.2l-3.2 3.2zM514.3 904l3.2 -3.2l3.2 3.2l-3.2 3.2zM526.3 885.5l3.2 -3.2l3.2 3.2l-3.2 3.2zM538.3 855.5l3.2 -3.2l3.2 3.2l-3.2 3.2zM550.3 827.5l3.2 -3.2l3.2 3.2l-3.2 3.2zM562.3 802l3.2 -3.2l3.2 3.2l-3.2 3.2zM574.3 777.5l3.2 -3.2l3.2 3.2l-3.2 3.2zM586.3 755l3.2 -3.2l3.2 3.2l-3.2 3.2zM598.3 732.5l3.2 -3.2l3.2 3.2l-3.2 3.2zM610.3 712l3.2 -3.2l3.2 3.2l-3.2 3.2zM622.3 693l3.2 -3.2l3.2 3.2l-3.2 3.2zM634.3 392.5l3.2 -3.2l3.2 3.2l-3.2 3.2zM646.3 399l3.2 -3.2l3.2 3.2l-3.2 3.2zM658.3 405l3.2 -3.2l3.2 3.2l-3.2 3.2zM670.3 411l3.2 -3.2l3.2 3.2l-3.2 3.2zM682.3 416l3.2 -3.2l3.2 3.2l-3.2 3.2zM694.3 422l3.2 -3.2l3.2 3.2l-3.2 3.2zM706.3 426.5l3.2 -3.2l3.2 3.2l-3.2 3.2zM718.3 433l3.2 -3.2l3.2 3.2l-3.2 3.2zM730.3 444l3.2 -3.2l3.2 3.2l-3.2 3.2zM742.3 461l3.2 -3.2l3.2 3.2l-3.2 3.2zM754.3 479l3.2 -3.2l3.2 3.2l-3.2 3.2zM766.3 494l3.2 -3.2l3.2 3.2l-3.2 3.2zM778.3 783l3.2 -3.2l3.2 3.2l-3.2 3.2z"/>
</g>
<path d="M809.5 480L872.1 978" stroke="#1a1a1a" stroke-width="5.6" fill="none"/>
<path d="M872.8 988.3L864 975.6Q871.5 978 879.2 974Z" fill="#1a1a1a" stroke="#1a1a1a" stroke-width="0.8" stroke-linejoin="round"/>
<g clip-path="url(#cr)"><path d="M2 1815L14 1788L26 1787L38 1810.5L50 1811L62 1813L74 1798.6L86 1795.8L98 1850L110 1846L122 1850.5L134 1862.5L146 1839.7L158 1845.8L170 1850L182 1864L194 1875L206 1869.4L218 1789L230 1727.8L242 1700L254 1718L266 1779L278 1772L290 1750L302 1752L314 1770.8L326 1779L338 1761L350 1745.8L362 1708L374 1748.6L386 1726.4L398 1713L410 1702L422 1722L434 1759L446 1755.5L458 1763L470 1760.5L482 1766L494 1762L506 1689.4L518 1704L530 1734.7L542 1725L554 1704L566 1728L578 1724.4L590 1713L602 1727.8L614 1725L626 1745.8L638 1758L650 1752.8L662 1751.7L674 1756.4L686 1751.4L698 1746.7L710 1766.7L722 1793L734 1805.5L746 1793.6L758 1793.6L770 1818.6L782 1734.7" stroke="#3b86cc" stroke-width="3.4" fill="none" stroke-linejoin="round"/></g>
<path d="M1.5 285V2072.5M0 285.5H886M0 1475.5H886M0 1477.5H886M0 2072.5H886M884.8 285V2073" stroke="#000" stroke-width="1.4" fill="none"/>
<path d="M885 323h6M885 419h6M885 515h6M885 611h6M885 707h6M885 803h6M885 899h6M885 995h6M885 1091h6M885 1187h6M885 1283h6M885 1379h6M885 1478h6M885 1655.5h6M885 1895h6M885 2072.5h6M1 2072v6M289 2072v6M577 2072v6" stroke="#000" stroke-width="1.4" fill="none"/>
<text x="891" y="335.246" font-size="37" fill="#000" textLength="141" lengthAdjust="spacing">4354.40</text>
<text x="891" y="431.246" font-size="37" fill="#000" textLength="141" lengthAdjust="spacing">4346.65</text>
<text x="891" y="527.246" font-size="37" fill="#000" textLength="141" lengthAdjust="spacing">4338.90</text>
<text x="891" y="623.246" font-size="37" fill="#000" textLength="141" lengthAdjust="spacing">4331.15</text>
<text x="891" y="719.246" font-size="37" fill="#000" textLength="141" lengthAdjust="spacing">4323.40</text>
<text x="891" y="815.246" font-size="37" fill="#000" textLength="141" lengthAdjust="spacing">4315.65</text>
<text x="891" y="911.246" font-size="37" fill="#000" textLength="141" lengthAdjust="spacing">4307.90</text>
<text x="891" y="1103.246" font-size="37" fill="#000" textLength="141" lengthAdjust="spacing">4292.40</text>
<text x="891" y="1199.246" font-size="37" fill="#000" textLength="141" lengthAdjust="spacing">4284.65</text>
<text x="891" y="1295.246" font-size="37" fill="#000" textLength="141" lengthAdjust="spacing">4276.90</text>
<text x="891" y="1391.246" font-size="37" fill="#000" textLength="141" lengthAdjust="spacing">4269.15</text>
<text x="894" y="1509.746" font-size="37" fill="#000" textLength="117" lengthAdjust="spacing">100.00</text>
<text x="891" y="1667.246" font-size="37" fill="#000" textLength="97" lengthAdjust="spacing">70.00</text>
<text x="891" y="1906.746" font-size="37" fill="#000" textLength="97" lengthAdjust="spacing">30.00</text>
<text x="891" y="2064.246" font-size="37" fill="#000" textLength="76" lengthAdjust="spacing">0.00</text>
<rect x="888" y="518" width="165" height="42" fill="#c85a5a"/><rect x="888" y="523" width="165" height="41.5" fill="#2f9e94"/>
<text x="899" y="555.446" font-size="37" fill="#f2ffff" textLength="141" lengthAdjust="spacing">4336.57</text>
<rect x="888" y="976" width="165" height="42" fill="#56169e"/>
<text x="899" y="1008.646" font-size="37" fill="#fdeaff" textLength="141" lengthAdjust="spacing">4300.00</text>
<text x="15" y="336.246" font-size="37" fill="#000" textLength="207" lengthAdjust="spacing">XAUUSD, H1</text>
<text x="13" y="383.246" font-size="37" fill="#000" textLength="604" lengthAdjust="spacing">4320.79 4342.88 4314.60 4336.57</text>
<text x="13" y="383.246" font-size="37" fill="#7a2440" textLength="604" lengthAdjust="spacing" clip-path="url(#cy)">4320.79 4342.88 4314.60 4336.57</text>
<text x="7" y="1518.746" font-size="37" fill="#000" textLength="235" lengthAdjust="spacing">RSI(14) 57.04</text>
<text x="1.5" y="2110.246" font-size="37" fill="#000" textLength="234" lengthAdjust="spacing">15 Dec 19:00</text>
<text x="289.5" y="2110.246" font-size="37" fill="#000" textLength="234" lengthAdjust="spacing">16 Dec 20:00</text>
<text x="577.5" y="2110.246" font-size="37" fill="#000" textLength="234" lengthAdjust="spacing">17 Dec 21:00</text>
</svg><div id="nav">
<svg width="1080" height="145" viewBox="0 2125 1080 145">
<!-- trade arrows -->
<path d="M74.400 2228.500V2201.500L80 2206.500L102.100 2185.600Q103.500 2184.600 105 2185.600L116.500 2197.200Q117 2198 116.300 2198.700L97 2220.400L101.200 2226.400Z" fill="#757575" stroke="#757575" stroke-width="1.500" stroke-linejoin="round"/>
<path d="M112.800 2187L120.200 2180.100L111.900 2171.800L143.800 2169L141.900 2201.900L133.600 2193.100L108.100 2217.100" fill="none" stroke="#757575" stroke-width="3.700" stroke-linejoin="round" stroke-linecap="round"/>
<!-- candles (active) -->
<g fill="#459af5" stroke="#459af5" stroke-linecap="round">
<path d="M254.300 2165V2210.500M308.400 2165V2211.500M281.200 2175V2230.500" stroke-width="7"/>
<rect x="244" y="2170" width="21" height="34" rx="3.500" stroke="none"/><rect x="298" y="2170" width="21" height="34" rx="3.500" stroke="none"/>
<rect x="274.600" y="2184.250" width="13.300" height="32.500" rx="2" fill="#f6f6f6" stroke-width="6.500"/>
</g>
<!-- trend -->
<g fill="none" stroke="#787878" stroke-width="5.800" stroke-linecap="round" stroke-linejoin="round">
<path d="M420.500 2212L443 2192.500L452 2201L485 2169"/><path d="M474.500 2167.500H486.500V2179"/><path d="M426 2227L443 2211M443 2227L460.500 2210.500"/>
</g>
<!-- inbox -->
<path d="M609 2164.300H644Q652 2164.300 654.500 2172L661.500 2189Q662.400 2192 662.400 2196V2223.600Q662.400 2229.600 656.400 2229.600H596.600Q590.600 2229.600 590.600 2223.600V2196Q590.600 2192 591.500 2189L598.500 2172Q601 2164.300 609 2164.300Z" fill="#787878"/>
<path d="M609 2170.200H644Q647.500 2170.200 648.500 2173L655.600 2197.400H640Q639 2197.400 638.900 2199Q637.500 2211.400 626.500 2211.400Q615.500 2211.400 614.100 2199Q614 2197.400 613 2197.400H598.100L604.500 2173Q605.500 2170.200 609 2170.200Z" fill="#f6f6f6"/>
<!-- news -->
<g fill="none" stroke="#787878" stroke-width="5.700" stroke-linejoin="round" stroke-linecap="round">
<rect x="780.400" y="2163.700" width="54" height="66.500" rx="4.500"/>
<path d="M773 2178.700H770Q765.600 2178.700 765.600 2183V2224Q765.600 2230.200 772 2230.200H790"/>
<path d="M793.500 2178.100H822.700" stroke-width="6"/><path d="M814 2190.700H823M814 2198.900H823M814 2207.600H823" stroke-width="5.400"/>
</g>
<rect x="790" y="2186.800" width="13.500" height="24.100" rx="2.500" fill="#787878"/><rect x="795.200" y="2192.800" width="3.100" height="12.200" fill="#f6f6f6"/>
<!-- chat -->
<path d="M958 2160.900C978 2160.900 993.600 2175.500 993.600 2194C993.600 2212.500 978 2227 958 2227C954 2227 950.500 2226.600 947.400 2225.800C940 2231 931 2233.200 923.500 2232.600Q922 2232 923.500 2230.500C929 2226 931 2221 931.900 2216.500C925.500 2210.500 922.300 2202.500 922.300 2194C922.300 2175.500 938 2160.900 958 2160.900Z" fill="#787878"/>
<circle cx="940.400" cy="2194.600" r="5.400" fill="#f6f6f6"/><circle cx="957.800" cy="2194.600" r="5.400" fill="#f6f6f6"/><circle cx="975.200" cy="2194.600" r="5.400" fill="#f6f6f6"/>
</svg>
</div>
<div id="sys">
<svg width="1080" height="118" viewBox="0 2270 1080 118">
<defs><filter id="sh" x="-20%" y="-20%" width="150%" height="150%"><feDropShadow dx="2" dy="2" stdDeviation="0.700" flood-color="#000" flood-opacity=".85"/></filter></defs>
<path d="M327 2308V2350L290 2329Z" fill="none" stroke="#8a8a8a" stroke-width="4.500" stroke-linejoin="round"/>
<circle cx="540" cy="2329" r="22" fill="none" stroke="#8a8a8a" stroke-width="4.500"/>
<rect x="750.500" y="2309.500" width="38.500" height="40.500" rx="5" fill="none" stroke="#858585" stroke-width="4.500"/>
<path d="M757 2308C769.500 2308 777.500 2317 777.500 2328.500C777.500 2340 769.500 2347.500 760 2348.500Q754 2352 747 2352.500Q751 2349 751.500 2346C742 2343 736.500 2336 736.500 2328.500C736.500 2317 744.500 2308 757 2308Z" fill="#fff" filter="url(#sh)"/>
<path d="M744 2343C748 2343.500 750 2341 751 2336L754.500 2321C755.500 2316.500 758 2315 762 2316.500M746.500 2327.500H760" fill="none" stroke="#fff" stroke-width="3" stroke-linecap="round" filter="url(#sh)"/>
</svg>
</div>
<div id="wm">@Xander Du666</div>
</body></html>
